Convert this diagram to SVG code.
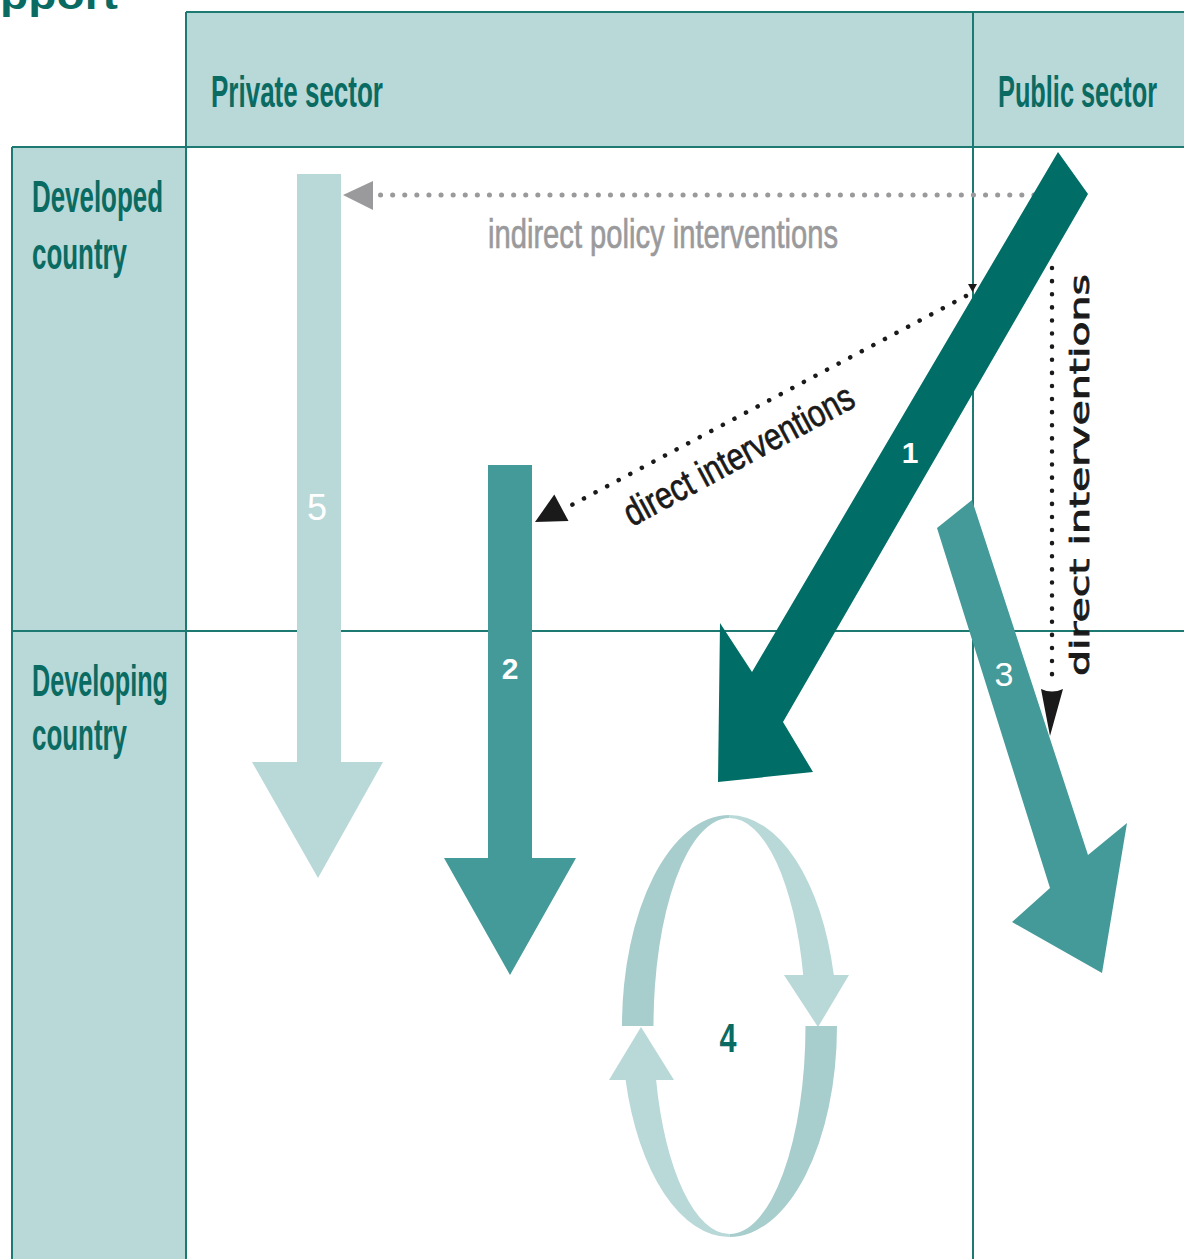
<svg xmlns="http://www.w3.org/2000/svg" width="1184" height="1259" viewBox="0 0 1184 1259">
  <style>
    .cell { fill: #b9d8d8; }
    .grid { stroke: #1d7a72; stroke-width: 2; fill: none; }
    .head { font-family: "Liberation Sans Narrow", "Liberation Sans", Arial, sans-serif; font-weight: bold; fill: #0a6b62; }
    .num { font-family: "Liberation Sans Narrow", "Liberation Sans", Arial, sans-serif; fill: #ffffff; text-anchor: middle; }
    .light { fill: #b9d8d8; }
    .ring { fill: #a8cdcd; }
    .mid { fill: #439a99; }
    .dark { fill: #006e66; }
    .dots-grey { stroke: #9a9a9c; stroke-width: 5; stroke-dasharray: 0.1 12; stroke-linecap: round; fill: none; }
    .dots-black { stroke: #1a1a1a; stroke-width: 4.5; stroke-dasharray: 0.1 13; stroke-linecap: round; fill: none; }
    .label { font-family: "Liberation Sans Narrow", "Liberation Sans", Arial, sans-serif; }
  </style>

  <!-- title fragment at the top edge -->
  <text x="0" y="9" class="head" font-size="40" textLength="118" lengthAdjust="spacingAndGlyphs">pport</text>

  <!-- table cells -->
  <g id="private-sector">
    <rect class="cell" x="186" y="12" width="787" height="135"/>
    <text class="head" x="211" y="107" font-size="44" textLength="172" lengthAdjust="spacingAndGlyphs">Private sector</text>
  </g>
  <g id="public-sector">
    <rect class="cell" x="973" y="12" width="211" height="135"/>
    <text class="head" x="998" y="107" font-size="44" textLength="159" lengthAdjust="spacingAndGlyphs">Public sector</text>
  </g>
  <g id="developed-country">
    <rect class="cell" x="12" y="147" width="174" height="484"/>
    <text class="head" x="32" y="212" font-size="44" textLength="131" lengthAdjust="spacingAndGlyphs">Developed</text>
    <text class="head" x="32" y="269" font-size="44" textLength="95" lengthAdjust="spacingAndGlyphs">country</text>
  </g>
  <g id="developing-country">
    <rect class="cell" x="12" y="631" width="174" height="628"/>
    <text class="head" x="32" y="696" font-size="44" textLength="136" lengthAdjust="spacingAndGlyphs">Developing</text>
    <text class="head" x="32" y="750" font-size="44" textLength="95" lengthAdjust="spacingAndGlyphs">country</text>
  </g>

  <!-- grid rules -->
  <g id="grid">
    <path class="grid" d="M186,12 H1184 M12,147 H1184 M12,631 H1184 M186,12 V1259 M12,147 V1259 M973,12 V1259"/>
  </g>

  <!-- flow 5: private to private -->
  <g id="flow-5">
    <path class="light" d="M297,174 H341 V762 H383 L318,878 L252,762 H297 Z"/>
    <text class="num" x="317" y="520" font-size="36">5</text>
  </g>

  <!-- flow 2 -->
  <g id="flow-2">
    <path class="mid" d="M488,465 H532 V858 H576 L510,975 L444,858 H488 Z"/>
    <text class="num" x="510" y="679" font-size="30" font-weight="bold">2</text>
  </g>

  <!-- flow 4: cycle -->
  <g id="flow-4">
    <path class="ring" d="M622,1026 A107.5,211 0 0 1 729.5,815 L729.5,818 A76,208 0 0 0 653.5,1026 Z"/>
    <path class="light" d="M729.5,815 A107.5,211 0 0 1 833.8,975 L803.2,975 A76,208 0 0 0 729.5,818 Z"/>
    <path class="light" d="M784,975 H849 L818,1027 Z"/>
    <path class="ring" d="M837,1026 A107.5,211 0 0 1 729.5,1237 L729.5,1234 A76,208 0 0 0 805.5,1026 Z"/>
    <path class="light" d="M729.5,1237 A107.5,211 0 0 1 625.6,1080 L656.1,1080 A76,208 0 0 0 729.5,1234 Z"/>
    <path class="light" d="M609,1080 H674 L641,1027 Z"/>
    <text x="728" y="1052" font-size="40" font-weight="bold" fill="#0a6b62" text-anchor="middle" class="label" textLength="17" lengthAdjust="spacingAndGlyphs">4</text>
  </g>

  <!-- connectors -->
  <g id="connectors">
    <path class="dots-grey" d="M1034,195 H378"/>
    <path fill="#9a9a9c" d="M343,195 L373,181 L373,210 Z"/>
  </g>

  <!-- flow 1: public sector, developed to developing -->
  <g id="flow-1">
    <path class="dark" d="M1058,152 L1088,194 L783,722 L813,772 L718,782 L720,623 L752,672 Z"/>
    <text class="num" x="910" y="463" font-size="30" font-weight="bold">1</text>
  </g>

  <!-- flow 3 -->
  <g id="flow-3">
    <path class="mid" d="M937,528 L972,500 L1088,855 L1127,823 L1102,973 L1012,922 L1050,888 Z"/>
    <text class="num" x="1004" y="686" font-size="34">3</text>
  </g>

  <g id="connectors-direct">
    <!-- diagonal direct interventions -->
    <path d="M968,284 L977,284 L972.5,292 Z" fill="#1a1a1a"/>
    <path class="dots-black" d="M966,296 L566,508"/>
    <path fill="#1a1a1a" d="M535,522 L554.3,494.6 L568.5,521 Z"/>
    <!-- vertical direct interventions -->
    <path class="dots-black" d="M1052,268 V686"/>
    <path fill="#1a1a1a" d="M1041,689 Q1052,694 1063,689 L1050,736 Z"/>
  </g>

  <!-- connector labels -->
  <g id="connector-labels">
    <text class="label" x="488" y="248" font-size="40" fill="#9a9a9c" stroke="#9a9a9c" stroke-width="0.7" textLength="350" lengthAdjust="spacingAndGlyphs">indirect policy interventions</text>
    <text class="label" transform="translate(632,527) rotate(-28.3)" font-size="38" fill="#1a1a1a" stroke="#1a1a1a" stroke-width="0.7" textLength="256" lengthAdjust="spacingAndGlyphs">direct interventions</text>
    <text transform="translate(1089,676) rotate(-90)" font-family="DejaVu Sans, sans-serif" font-size="27" fill="#1a1a1a" stroke="#1a1a1a" stroke-width="0.8" textLength="402" lengthAdjust="spacingAndGlyphs">direct interventions</text>
  </g>
</svg>
